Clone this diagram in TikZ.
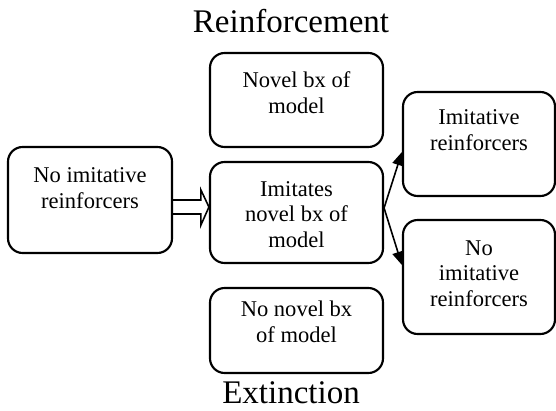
\documentclass[tikz,border=0pt]{standalone}
\usepackage{fontspec}
\setmainfont{Liberation Serif}
\usetikzlibrary{fit,calc,arrows.meta}
\begin{document}
\begin{tikzpicture}[x=0.75pt,y=-0.75pt,
  box/.style={draw=black,line width=1.6pt,rounded corners=11pt,inner sep=0pt},
  txt/.style={align=center,anchor=base,inner sep=0pt,
    font=\fontsize{16.9}{18.9}\selectfont},
  heading/.style={anchor=base,inner sep=0pt,font=\fontsize{24.75}{28}\selectfont},
  hollow/.style={draw=black,line width=1.2pt,line join=miter},
  arr/.style={draw=black,line width=1.2pt,-{Triangle[length=10pt,width=8.5pt]}}]
\useasboundingbox (0,0) rectangle (556,410);

% headings
\node[heading] (reinf) at (291,33) {Reinforcement};
\node[heading] (ext) at (291,403) {Extinction};

% boxes
\node[box,fit={(8,147) (172,253)}] (L) {};
\node[box,fit={(210,53) (383,147)}] (TM) {};
\node[box,fit={(210,162) (383,263)}] (C) {};
\node[box,fit={(210,288) (383,373)}] (BM) {};
\node[box,fit={(403,92) (555,196)}] (TR) {};
\node[box,fit={(403,220) (555,334)}] (BR) {};

% box texts (anchored at the baseline of the last line)
\node[txt] (Lt) at (90,208) {No imitative\\reinforcers};
\node[txt] (TMt) at (296.5,113) {Novel bx of\\model};
\node[txt] (Ct) at (296.5,247) {Imitates\\novel bx of\\model};
\node[txt] (BMt) at (296.5,342) {No novel bx\\of model};
\node[txt] (TRt) at (479,150) {Imitative\\reinforcers};
\node[txt] (BRt) at (479,306) {No\\imitative\\reinforcers};

% hollow block arrow from L to C
\coordinate (h) at (C.west |- L.east);
\draw[hollow] (L.east) -- ($(h)+(-8,0)$) -- ($(h)+(-8,-10)$) -- ($(h)+(0,7)$)
  -- ($(h)+(-8,25)$) -- ($(h)+(-8,14)$) -- ($(L.east)+(0,14)$);

% outcome arrows
\coordinate (s) at ($(C.east)+(0,-4.5)$);
\draw[arr] (s) -- ($(TR.west)+(0,8)$);
\draw[arr] (s) -- ($(BR.west)+(0,-12)$);
\end{tikzpicture}
\end{document}
